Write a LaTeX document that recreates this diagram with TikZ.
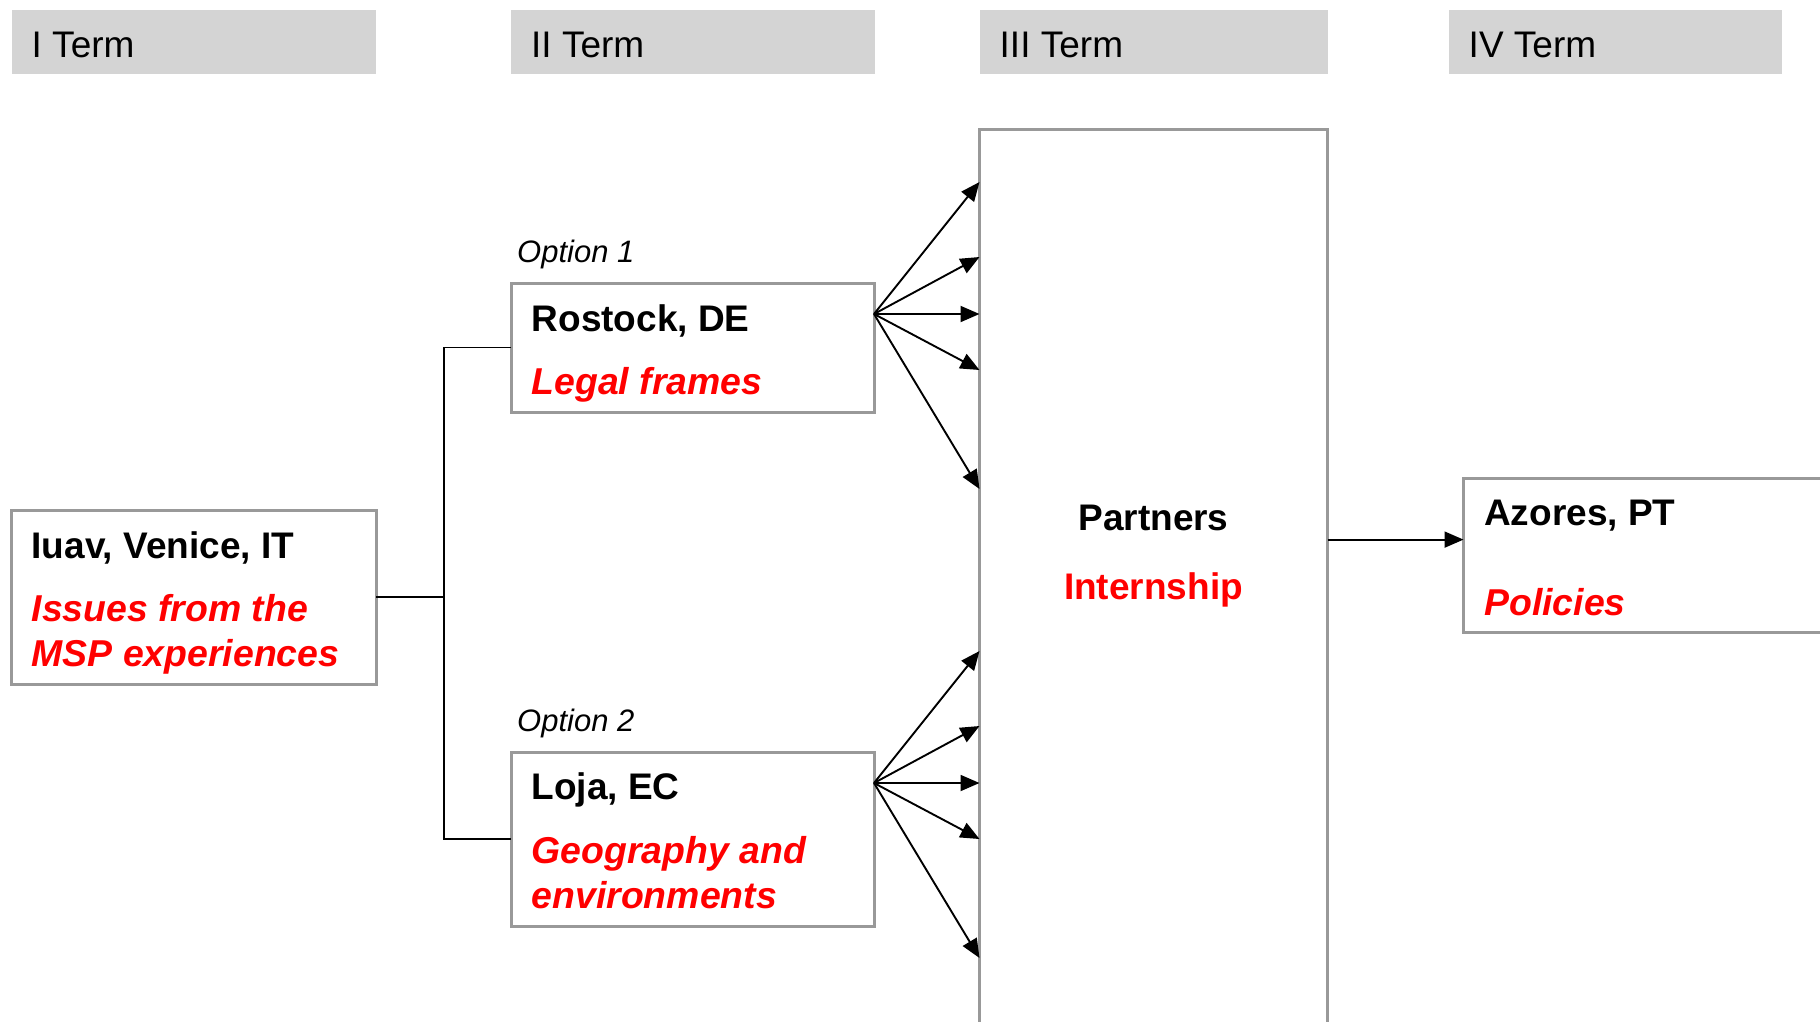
\documentclass[tikz,border=0pt]{standalone}
\usepackage{fontspec}
\setmainfont{Liberation Sans}
\usetikzlibrary{arrows.meta,calc}
\definecolor{hdrgray}{RGB}{212,212,212}
\definecolor{boxgray}{RGB}{153,153,153}
\definecolor{txtred}{RGB}{255,0,0}
\begin{document}
\begin{tikzpicture}[x=1pt,y=-1pt,
  hdr/.style={fill=hdrgray, draw=none, anchor=north west, inner sep=0pt, outer sep=0pt},
  box/.style={draw=boxgray, line width=3pt, fill=white, anchor=north west, inner sep=0pt, outer sep=0pt},
  lbl/.style={anchor=base west, inner sep=0pt, font=\fontsize{37}{44}\selectfont},
  bl/.style={lbl, font=\fontsize{37}{44}\selectfont\bfseries},
  blc/.style={anchor=base, inner sep=0pt, font=\fontsize{37}{44}\selectfont\bfseries},
  rd/.style={lbl, text=txtred, font=\fontsize{37.4}{44}\selectfont\bfseries\itshape},
  opt/.style={lbl, font=\fontsize{31}{37}\selectfont\itshape},
  conn/.style={line width=1.9pt, black},
  arr/.style={conn, -{Triangle[length=19pt,width=16pt]}}
]
\clip (0,0) rectangle (1820,1021);
\fill[white] (0,0) rectangle (1820,1021);

% headers
\node[hdr, minimum width=364pt, minimum height=63.5pt] (h1) at (11.5,10) {};
\node[hdr, minimum width=364pt, minimum height=63.5pt] (h2) at (511,10) {};
\node[hdr, minimum width=347.5pt, minimum height=63.5pt] (h3) at (980,10) {};
\node[hdr, minimum width=333pt, minimum height=63.5pt] (h4) at (1449,10) {};
\node[lbl] (t1) at ($(h1.north west)+(20,47.5)$) {I Term};
\node[lbl] (t2) at ($(h2.north west)+(20,47.5)$) {II Term};
\node[lbl] (t3) at ($(h3.north west)+(19.5,47.5)$) {III Term};
\node[lbl] (t4) at ($(h4.north west)+(19.5,47.5)$) {IV Term};

% boxes
\node[box, minimum width=364.5pt, minimum height=173.5pt] (iuav) at (11.5,510.5) {};
\node[box, minimum width=363pt, minimum height=129pt] (ros) at (511,283) {};
\node[box, minimum width=363pt, minimum height=174.5pt] (loja) at (511,752) {};
\node[box, minimum width=348pt, minimum height=920pt] (par) at (979.5,129.5) {};
\node[box, minimum width=420pt, minimum height=154pt] (azo) at (1463.5,478) {};

% texts
\node[bl] (iuavT) at ($(iuav.north west)+(20,47.5)$) {Iuav, Venice, IT};
\node[rd] (iuavS1) at ($(iuav.north west)+(20,110.5)$) {Issues from the};
\node[rd] (iuavS2) at ($(iuav.north west)+(20,155.5)$) {MSP experiences};

\node[opt] (opt1) at ($(ros.north west)+(6,-20.3)$) {Option 1};
\node[bl] (rosT) at ($(ros.north west)+(20.5,48)$) {Rostock, DE};
\node[rd] (rosS) at ($(ros.north west)+(20.5,111)$) {Legal frames};

\node[opt] (opt2) at ($(loja.north west)+(6,-20.3)$) {Option 2};
\node[bl] (lojaT) at ($(loja.north west)+(20.5,47)$) {Loja, EC};
\node[rd] (lojaS1) at ($(loja.north west)+(20.5,111.3)$) {Geography and};
\node[rd] (lojaS2) at ($(loja.north west)+(20.5,156.3)$) {environments};

\node[blc] (parT) at ($(par.north)+(0,400.5)$) {Partners};
\node[blc, text=txtred] (parS) at ($(par.north)+(0,469.5)$) {Internship};

\node[bl] (azoT) at ($(azo.north west)+(20.5,47.3)$) {Azores, PT};
\node[rd] (azoS) at ($(azo.north west)+(20.5,137)$) {Policies};

% tree connector
\path (iuav.east) -- ++(68.2,0) coordinate (jx);
\draw[conn, line width=1.6pt] (iuav.east) -- (jx);
\draw[conn, line width=1.6pt] (ros.west) -| (jx);
\draw[conn, line width=1.6pt] (loja.west) -| (jx);

% fans
\coordinate (rf) at ($(ros.north east)+(0,31)$);
\coordinate (lf) at ($(loja.north east)+(0,31)$);
\foreach \d [count=\i] in {-132,-57,0,56,175} {
  \coordinate (rt\i) at ($(rf)+(0,\d)$);
  \draw[arr] (rf) -- (par.west |- rt\i);
  \coordinate (lt\i) at ($(lf)+(0,\d)$);
  \draw[arr] (lf) -- (par.west |- lt\i);
}

% to Azores
\coordinate (aw) at ($(azo.north west)!0.4!(azo.south west)$);
\draw[arr] (par.east |- aw) -- (aw);
\end{tikzpicture}
\end{document}
